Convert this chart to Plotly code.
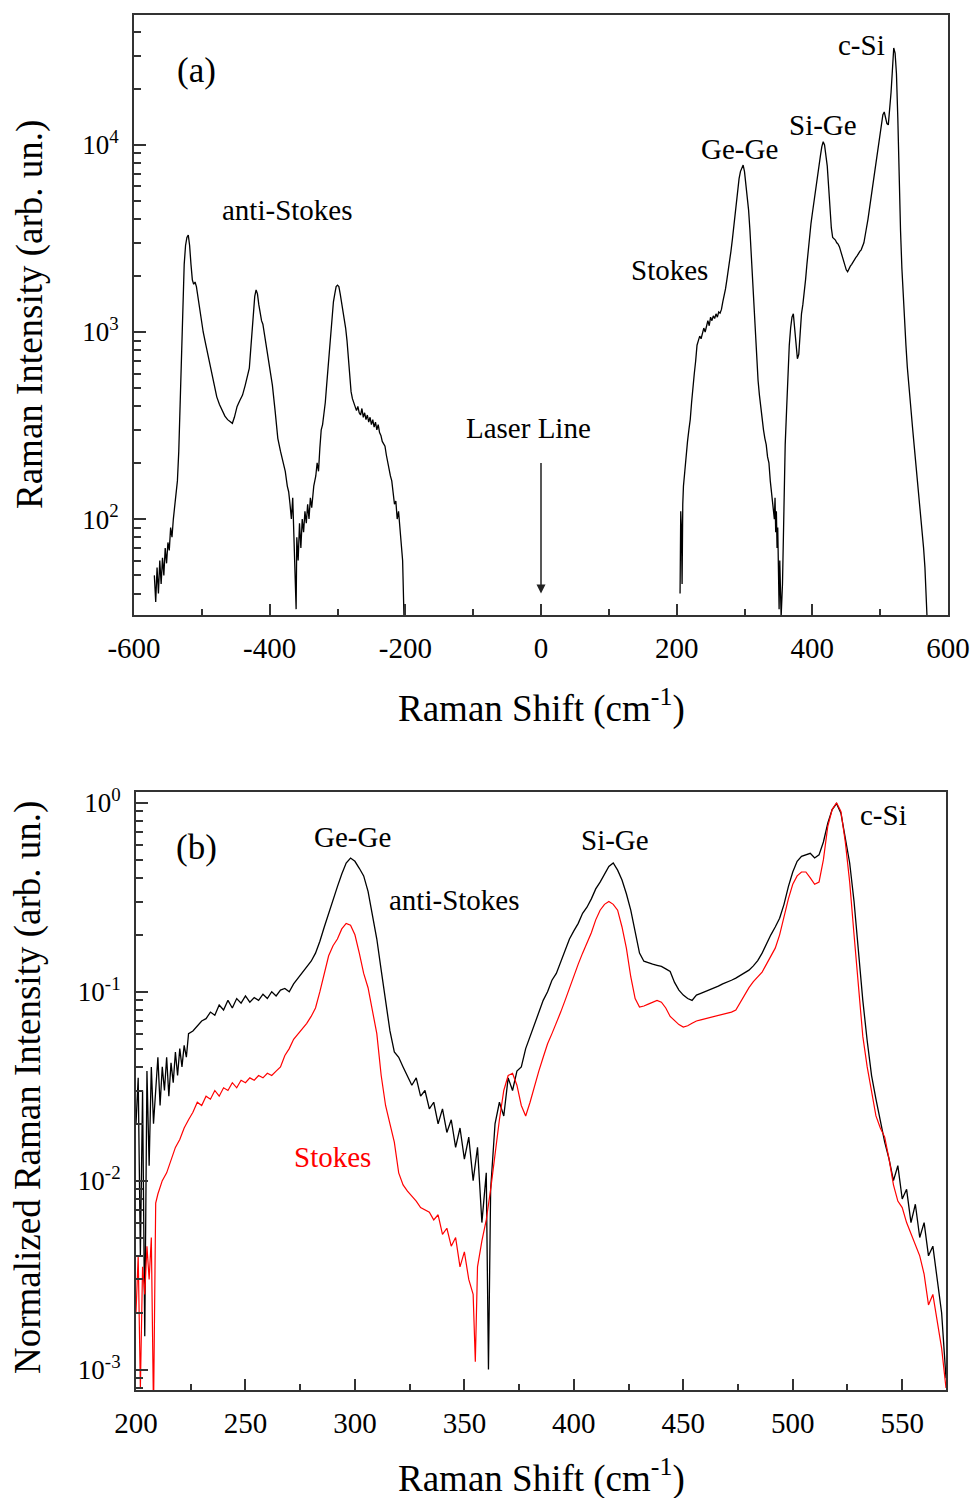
import math
import plotly.graph_objects as go

# ---------------- data ----------------
# Panel (a): anti-Stokes side (negative shift)
as_top_x = [-570, -568, -566, -564, -562, -560, -558, -556, -554, -552, -550, -548, -546, -544, -542, -540,
            -538, -536, -534, -532, -530, -528, -526, -524, -522, -520, -518, -516, -514, -512, -510, -508,
            -506, -504, -502, -498, -494, -490, -486, -482, -478, -474, -470, -466, -462, -458, -455, -452,
            -448, -444, -440, -436, -432, -430, -428, -426, -424, -422, -420, -418, -416, -414, -412, -410,
            -406, -402, -400, -396, -392, -390, -388, -384, -380, -377, -374, -372, -370, -368, -366, -364,
            -362, -361, -360, -358, -356, -354, -352, -350, -348, -346, -344, -342, -340, -338, -335, -332,
            -330, -328, -326, -324, -322, -320, -318, -316, -314, -312, -310, -308, -306, -304, -302, -300,
            -298, -296, -294, -292, -290, -288, -286, -284, -282, -280, -278, -276, -274, -272, -270, -268,
            -266, -264, -262, -260, -258, -256, -254, -252, -250, -248, -246, -244, -242, -240, -238, -236,
            -234, -232, -230, -228, -226, -224, -222, -220, -218, -216, -214, -212, -210, -208, -206, -204,
            -202, -200]
as_top_y = [50, 36, 55, 40, 60, 45, 62, 50, 70, 58, 75, 68, 90, 80, 100, 115,
            130, 160, 230, 420, 800, 1500, 2300, 2900, 3200, 3300, 2900, 2300, 1900, 1800, 1850, 1750,
            1550, 1350, 1200, 1000, 850, 720, 600, 520, 450, 410, 380, 355, 340, 330, 325, 350,
            400, 430, 460, 520, 600, 640, 800, 1000, 1300, 1550, 1680, 1600, 1400, 1250, 1150, 1100,
            900, 720, 660, 520, 380, 320, 270, 230, 200, 180, 150, 140, 120, 100, 130, 75,
            55, 33, 80, 60, 95, 70, 100, 85, 110, 95, 120, 100, 130, 115, 150, 170,
            200, 180, 240, 300, 320, 360, 420, 520, 650, 800, 1000, 1200, 1450, 1600, 1750, 1780,
            1750, 1600, 1450, 1300, 1150, 1050, 900, 700, 560, 480, 440, 420, 405, 380, 400, 370,
            360, 390, 350, 370, 340, 360, 330, 350, 320, 340, 310, 330, 300, 320, 290, 280,
            260, 250, 245, 220, 200, 180, 170, 160, 140, 120, 125, 100, 110, 90, 75, 60,
            30, 20]

# Panel (a): Stokes side (positive shift)
st_top_x = [205, 206, 207, 208, 209, 210, 212, 214, 216, 218, 220, 222, 224, 226, 228, 230,
            232, 234, 236, 238, 240, 242, 244, 246, 248, 250, 252, 254, 256, 258, 260, 262,
            264, 266, 268, 270, 272, 274, 276, 278, 280, 282, 284, 286, 288, 290, 292, 294,
            296, 298, 300, 302, 304, 306, 308, 310, 312, 314, 316, 318, 320, 322, 324, 326,
            328, 330, 332, 334, 336, 338, 340, 342, 344, 345, 346, 347, 348, 349, 350, 351,
            352, 353, 354, 356, 358, 360, 362, 364, 366, 368, 370, 372, 374, 376, 378, 380,
            382, 384, 386, 388, 390, 392, 394, 396, 398, 400, 402, 404, 406, 408, 410, 412,
            414, 416, 418, 420, 422, 424, 426, 428, 430, 432, 434, 436, 438, 440, 442, 444,
            446, 448, 450, 452, 454, 456, 458, 460, 462, 464, 466, 468, 470, 472, 474, 476,
            478, 480, 482, 484, 486, 488, 490, 492, 494, 496, 498, 500, 502, 504, 506, 508,
            510, 512, 514, 516, 518, 520, 522, 524, 526, 528, 530, 532, 534, 536, 538, 540,
            542, 544, 546, 548, 550, 552, 554, 556, 558, 560, 562, 564, 566, 568, 570]
st_top_y = [40, 110, 90, 45, 120, 150, 180, 230, 260, 300, 340, 420, 520, 600, 700, 850,
            900, 950, 920, 1000, 1050, 1000, 1100, 1150, 1080, 1200, 1150, 1220, 1180, 1250, 1200, 1280,
            1260, 1320, 1450, 1550, 1700, 1900, 2100, 2400, 2700, 3100, 3600, 4300, 5100, 5900, 6600, 7200,
            7600, 7800, 7200, 6200, 5400, 4500, 3500, 2600, 1900, 1300, 950, 700, 550, 460, 390, 340,
            300, 270, 250, 215, 200, 160, 135, 125, 100, 130, 85, 110, 70, 90, 55, 33,
            60, 30, 30, 45, 120, 250, 380, 600, 850, 1050, 1200, 1250, 1050, 850, 720, 760,
            1000, 1250, 1400, 1600, 1900, 2300, 2800, 3300, 3800, 4300, 4900, 5600, 6200, 6900, 7800, 8800,
            9800, 10400, 10000, 9000, 7700, 6000, 4600, 3600, 3200, 3150, 3100, 3000, 2950, 2850, 2700, 2550,
            2400, 2250, 2150, 2100, 2200, 2250, 2300, 2380, 2450, 2500, 2550, 2650, 2700, 2750, 2850, 3000,
            3300, 3600, 4000, 4500, 5000, 5700, 6400, 7200, 8100, 9000, 10200, 11500, 13000, 14500, 15000, 14000,
            13000, 12800, 15000, 19000, 25000, 33000, 31000, 24000, 14000, 6500, 3500, 2200, 1500, 1100, 850, 650,
            520, 430, 360, 300, 250, 210, 170, 145, 120, 100, 87, 70, 55, 40, 25]

# Panel (b): normalized spectra vs |Raman shift|
b_x = [200, 201, 202, 203, 204, 205, 206, 207, 208, 209, 210, 211, 212, 213, 214, 215,
       216, 217, 218, 219, 220, 221, 222, 223, 224, 226, 228, 230, 232, 234, 236, 238,
       240, 242, 244, 246, 248, 250, 252, 254, 256, 258, 260, 262, 264, 266, 268, 270,
       272, 274, 276, 278, 280, 282, 284, 286, 288, 290, 292, 294, 296, 298, 300, 302,
       304, 306, 308, 310, 312, 314, 316, 318, 320, 322, 324, 326, 328, 330, 332, 334,
       336, 338, 340, 342, 344, 346, 348, 350, 352, 354, 356, 358, 360, 361, 362, 364,
       366, 368, 370, 372, 374, 376, 378, 380, 382, 384, 386, 388, 390, 392, 394, 396,
       398, 400, 402, 404, 406, 408, 410, 412, 414, 416, 418, 420, 422, 424, 426, 428,
       430, 432, 434, 436, 438, 440, 442, 444, 446, 448, 450, 452, 454, 456, 458, 460,
       462, 464, 466, 468, 470, 472, 474, 476, 478, 480, 482, 484, 486, 488, 490, 492,
       494, 496, 498, 500, 502, 504, 506, 508, 510, 512, 514, 516, 518, 520, 522, 524,
       526, 528, 530, 532, 534, 536, 538, 540, 542, 544, 546, 548, 550, 552, 554, 556,
       558, 560, 562, 564, 566, 568, 570]
anti_stokes_norm = [0.02, 0.035, 0.004, 0.03, 0.0015, 0.038, 0.012, 0.04, 0.02, 0.03, 0.045, 0.025, 0.04, 0.03, 0.045, 0.028,
                    0.042, 0.033, 0.048, 0.036, 0.05, 0.04, 0.052, 0.045, 0.06, 0.062, 0.066, 0.07, 0.072, 0.078, 0.075, 0.085,
                    0.08, 0.09, 0.082, 0.092, 0.087, 0.095, 0.088, 0.093, 0.09, 0.097, 0.092, 0.1, 0.095, 0.102, 0.104, 0.1,
                    0.11, 0.118, 0.125, 0.135, 0.145, 0.16, 0.185, 0.22, 0.26, 0.31, 0.36, 0.42, 0.48, 0.51, 0.49, 0.45,
                    0.41, 0.34, 0.26, 0.19, 0.13, 0.09, 0.062, 0.048, 0.045, 0.04, 0.036, 0.032, 0.035, 0.028, 0.03, 0.024,
                    0.026, 0.02, 0.024, 0.018, 0.021, 0.015, 0.019, 0.013, 0.017, 0.01, 0.015, 0.006, 0.011, 0.001, 0.009, 0.02,
                    0.026, 0.022, 0.035, 0.03, 0.038, 0.04, 0.05, 0.058, 0.068, 0.078, 0.09, 0.1, 0.115, 0.125, 0.145, 0.165,
                    0.19, 0.21, 0.23, 0.26, 0.28, 0.31, 0.35, 0.38, 0.42, 0.46, 0.48, 0.44, 0.39, 0.33, 0.27, 0.21,
                    0.16, 0.145, 0.142, 0.14, 0.138, 0.136, 0.132, 0.128, 0.112, 0.102, 0.096, 0.092, 0.09, 0.096, 0.098, 0.1,
                    0.103, 0.105, 0.107, 0.11, 0.112, 0.115, 0.118, 0.122, 0.125, 0.13, 0.137, 0.146, 0.16, 0.18, 0.2, 0.22,
                    0.245, 0.29, 0.36, 0.43, 0.49, 0.52, 0.53, 0.54, 0.51, 0.53, 0.62, 0.78, 0.92, 0.99, 0.88, 0.66,
                    0.48, 0.3, 0.16, 0.09, 0.055, 0.036, 0.027, 0.021, 0.016, 0.013, 0.01, 0.012, 0.008, 0.009, 0.006, 0.0075,
                    0.005, 0.006, 0.004, 0.0045, 0.003, 0.002, 0.0009]

b_red_x = [200, 201, 202, 203, 204, 205, 206, 207, 208, 209, 210, 212, 214, 216, 218, 220,
           222, 224, 226, 228, 230, 232, 234, 236, 238, 240, 242, 244, 246, 248, 250, 252,
           254, 256, 258, 260, 262, 264, 266, 268, 270, 272, 274, 276, 278, 280, 282, 284,
           286, 288, 290, 292, 294, 296, 298, 300, 302, 304, 306, 308, 310, 312, 314, 316,
           318, 320, 322, 324, 326, 328, 330, 332, 334, 336, 338, 340, 342, 344, 346, 348,
           350, 352, 354, 355, 356, 358, 360, 362, 364, 366, 368, 370, 372, 374, 376, 378,
           380, 382, 384, 386, 388, 390, 392, 394, 396, 398, 400, 402, 404, 406, 408, 410,
           412, 414, 416, 418, 420, 422, 424, 426, 428, 430, 432, 434, 436, 438, 440, 442,
           444, 446, 448, 450, 452, 454, 456, 458, 460, 462, 464, 466, 468, 470, 472, 474,
           476, 478, 480, 482, 484, 486, 488, 490, 492, 494, 496, 498, 500, 502, 504, 506,
           508, 510, 512, 514, 516, 518, 520, 522, 524, 526, 528, 530, 532, 534, 536, 538,
           540, 542, 544, 546, 548, 550, 552, 554, 556, 558, 560, 562, 564, 566, 568, 570]
stokes_norm = [0.002, 0.004, 0.0008, 0.0035, 0.0025, 0.0045, 0.003, 0.005, 0.0006, 0.0076, 0.0085, 0.01, 0.011, 0.013, 0.015, 0.0165,
               0.019, 0.021, 0.023, 0.026, 0.025, 0.028, 0.027, 0.03, 0.028, 0.031, 0.03, 0.033, 0.031, 0.034, 0.033, 0.035,
               0.034, 0.036, 0.035, 0.037, 0.036, 0.038, 0.04, 0.046, 0.05, 0.056, 0.06, 0.064, 0.068, 0.074, 0.082, 0.1,
               0.125, 0.155, 0.175, 0.19, 0.215, 0.23, 0.225, 0.2, 0.16, 0.125, 0.105, 0.08, 0.06, 0.036, 0.025, 0.02,
               0.016, 0.011, 0.0095, 0.0088, 0.0083, 0.0078, 0.0072, 0.007, 0.0068, 0.0062, 0.0066, 0.0052, 0.0056, 0.0045, 0.005, 0.0035,
               0.0042, 0.003, 0.0025, 0.0011, 0.0035, 0.0048, 0.0062, 0.009, 0.014, 0.021, 0.03, 0.036, 0.037, 0.032, 0.025, 0.022,
               0.026, 0.032, 0.038, 0.045, 0.053, 0.06, 0.068, 0.078, 0.09, 0.105, 0.12, 0.14, 0.16, 0.18, 0.205, 0.24,
               0.27, 0.29, 0.3, 0.29, 0.27, 0.22, 0.17, 0.12, 0.092, 0.083, 0.084, 0.086, 0.088, 0.09, 0.088, 0.082,
               0.074, 0.07, 0.067, 0.065, 0.066, 0.068, 0.07, 0.071, 0.072, 0.073, 0.074, 0.075, 0.076, 0.077, 0.078, 0.08,
               0.088, 0.097, 0.105, 0.113, 0.12, 0.127, 0.14, 0.155, 0.17, 0.2, 0.25, 0.31, 0.37, 0.41, 0.43, 0.43,
               0.4, 0.37, 0.38, 0.5, 0.75, 0.92, 1.0, 0.9, 0.62, 0.38, 0.2, 0.11, 0.058, 0.04, 0.029, 0.022,
               0.019, 0.017, 0.013, 0.0095, 0.0078, 0.0072, 0.006, 0.0052, 0.0045, 0.004, 0.0032, 0.0022, 0.0025, 0.0018, 0.0013, 0.0008]

top_xticks = [-600, -400, -200, 0, 200, 400, 600]
top_xticktext = ["-600", "-400", "-200", "0", "200", "400", "600"]
top_yticks = [100, 1000, 10000]
top_yticktext = ["10<sup>2</sup>", "10<sup>3</sup>", "10<sup>4</sup>"]
bot_xticks = [200, 250, 300, 350, 400, 450, 500, 550]
bot_xticktext = ["200", "250", "300", "350", "400", "450", "500", "550"]
bot_yticks = [0.001, 0.01, 0.1, 1]
bot_yticktext = ["10<sup>-3</sup>", "10<sup>-2</sup>", "10<sup>-1</sup>", "10<sup>0</sup>"]

# ---------------- figure ----------------
W, H = 974, 1498
FONT = "Liberation Serif, Times New Roman, serif"


def pxp(x, y):
    return x / W, 1 - y / H


def dom_x(a, b):
    return [a / W, b / W]


def dom_y(top, bottom):
    return [1 - bottom / H, 1 - top / H]


fig = go.Figure()
fig.add_trace(go.Scatter(x=as_top_x, y=as_top_y, mode="lines", line=dict(color="black", width=1.3),
                         xaxis="x", yaxis="y", showlegend=False))
fig.add_trace(go.Scatter(x=st_top_x, y=st_top_y, mode="lines", line=dict(color="black", width=1.3),
                         xaxis="x", yaxis="y", showlegend=False))
fig.add_trace(go.Scatter(x=b_x, y=anti_stokes_norm, mode="lines", line=dict(color="black", width=1.3),
                         xaxis="x2", yaxis="y2", showlegend=False))
fig.add_trace(go.Scatter(x=b_red_x, y=stokes_norm, mode="lines", line=dict(color="#ff0000", width=1.2),
                         xaxis="x2", yaxis="y2", showlegend=False))


def minor_log(lo, hi):
    vals = []
    d = 10 ** math.floor(math.log10(lo))
    while d < hi:
        for k in range(2, 10):
            v = k * d
            if lo <= v <= hi:
                vals.append(v)
        d *= 10
    return vals


axis_common = dict(showline=True, linecolor="#333333", linewidth=2, mirror=True, ticks="inside",
                   tickcolor="#333333", tickwidth=1.5, showgrid=False, zeroline=False, automargin=False,
                   ticklabeloverflow="allow",
                   tickfont=dict(family=FONT, size=29, color="black"))
yfont = dict(family=FONT, size=27, color="black")

top_y_lo, top_y_hi = 30.7, 49500
bot_y_lo, bot_y_hi = 7.8e-4, 1.14

fig.update_layout(
    width=W, height=H, margin=dict(l=0, r=0, t=0, b=0, autoexpand=False),
    paper_bgcolor="white", plot_bgcolor="white",
    xaxis=dict(domain=dom_x(134, 948), anchor="y", range=[-600, 600], tickmode="array",
               tickvals=top_xticks, ticktext=top_xticktext, ticklen=11, ticklabelstandoff=6,
               minor=dict(tickmode="array", tickvals=[-500, -300, -100, 100, 300, 500], ticks="inside",
                          ticklen=6, tickcolor="#333333", tickwidth=1.5),
               **axis_common),
    yaxis=dict(domain=dom_y(15, 615), anchor="x", type="log",
               range=[math.log10(top_y_lo), math.log10(top_y_hi)], tickmode="array",
               tickvals=top_yticks, ticktext=top_yticktext, ticklen=12, ticklabelstandoff=8,
               minor=dict(tickmode="array", tickvals=minor_log(top_y_lo, top_y_hi), ticks="inside",
                          ticklen=7, tickcolor="#333333", tickwidth=1.5),
               **{**axis_common, "tickfont": yfont}),
    xaxis2=dict(domain=dom_x(136, 946), anchor="y2", range=[200, 570], tickmode="array",
                tickvals=bot_xticks, ticktext=bot_xticktext, ticklen=11, ticklabelstandoff=6,
                minor=dict(tickmode="array", tickvals=[225, 275, 325, 375, 425, 475, 525], ticks="inside",
                           ticklen=6, tickcolor="#333333", tickwidth=1.5),
                **axis_common),
    yaxis2=dict(domain=dom_y(792, 1390), anchor="x2", type="log",
                range=[math.log10(bot_y_lo), math.log10(bot_y_hi)], tickmode="array",
                tickvals=bot_yticks, ticktext=bot_yticktext, ticklen=12, ticklabelstandoff=8,
                minor=dict(tickmode="array", tickvals=minor_log(bot_y_lo, bot_y_hi), ticks="inside",
                           ticklen=7, tickcolor="#333333", tickwidth=1.5),
                **{**axis_common, "tickfont": yfont}),
)

anns = []


def label(text, x, y, size=29, color="black", angle=0):
    px_, py_ = pxp(x, y)
    anns.append(dict(text=text, x=px_, y=py_, xref="paper", yref="paper", showarrow=False,
                     xanchor="center", yanchor="middle", textangle=angle,
                     font=dict(family=FONT, size=size, color=color)))


# panel (a)
label("(a)", 196, 70, size=35)
label("anti-Stokes", 287, 210)
label("Laser Line", 528, 428)
label("Stokes", 669, 270)
label("Ge-Ge", 739, 149)
label("Si-Ge", 823, 125)
label("c-Si", 861, 45)
label("Raman Shift (cm<sup>-1</sup>)", 541, 706, size=37)
label("Raman Intensity (arb. un.)", 30, 315, size=37, angle=-90)
# panel (b)
label("(b)", 196, 847, size=35)
label("Ge-Ge", 352, 837)
label("anti-Stokes", 454, 900)
label("Si-Ge", 615, 840)
label("c-Si", 883, 815)
label("Stokes", 332, 1157, color="#ff0000")
label("Raman Shift (cm<sup>-1</sup>)", 541, 1476, size=37)
label("Normalized Raman Intensity (arb. un.)", 28, 1088, size=37, angle=-90)

# laser line arrow (points at 0 cm-1)
anns.append(dict(text="", x=0, y=math.log10(40), xref="x", yref="y", showarrow=True,
                 ax=0, ay=-132, axref="pixel", ayref="pixel", arrowhead=2, arrowsize=1.2,
                 arrowwidth=1.5, arrowcolor="#222222"))

fig.update_layout(annotations=anns)
# drop the browser's default 8px page margin so the figure fills the window exactly
fig.write_html("out.html", config={"displayModeBar": False},
               post_script="document.body.style.margin='0';document.body.style.overflow='hidden';")
